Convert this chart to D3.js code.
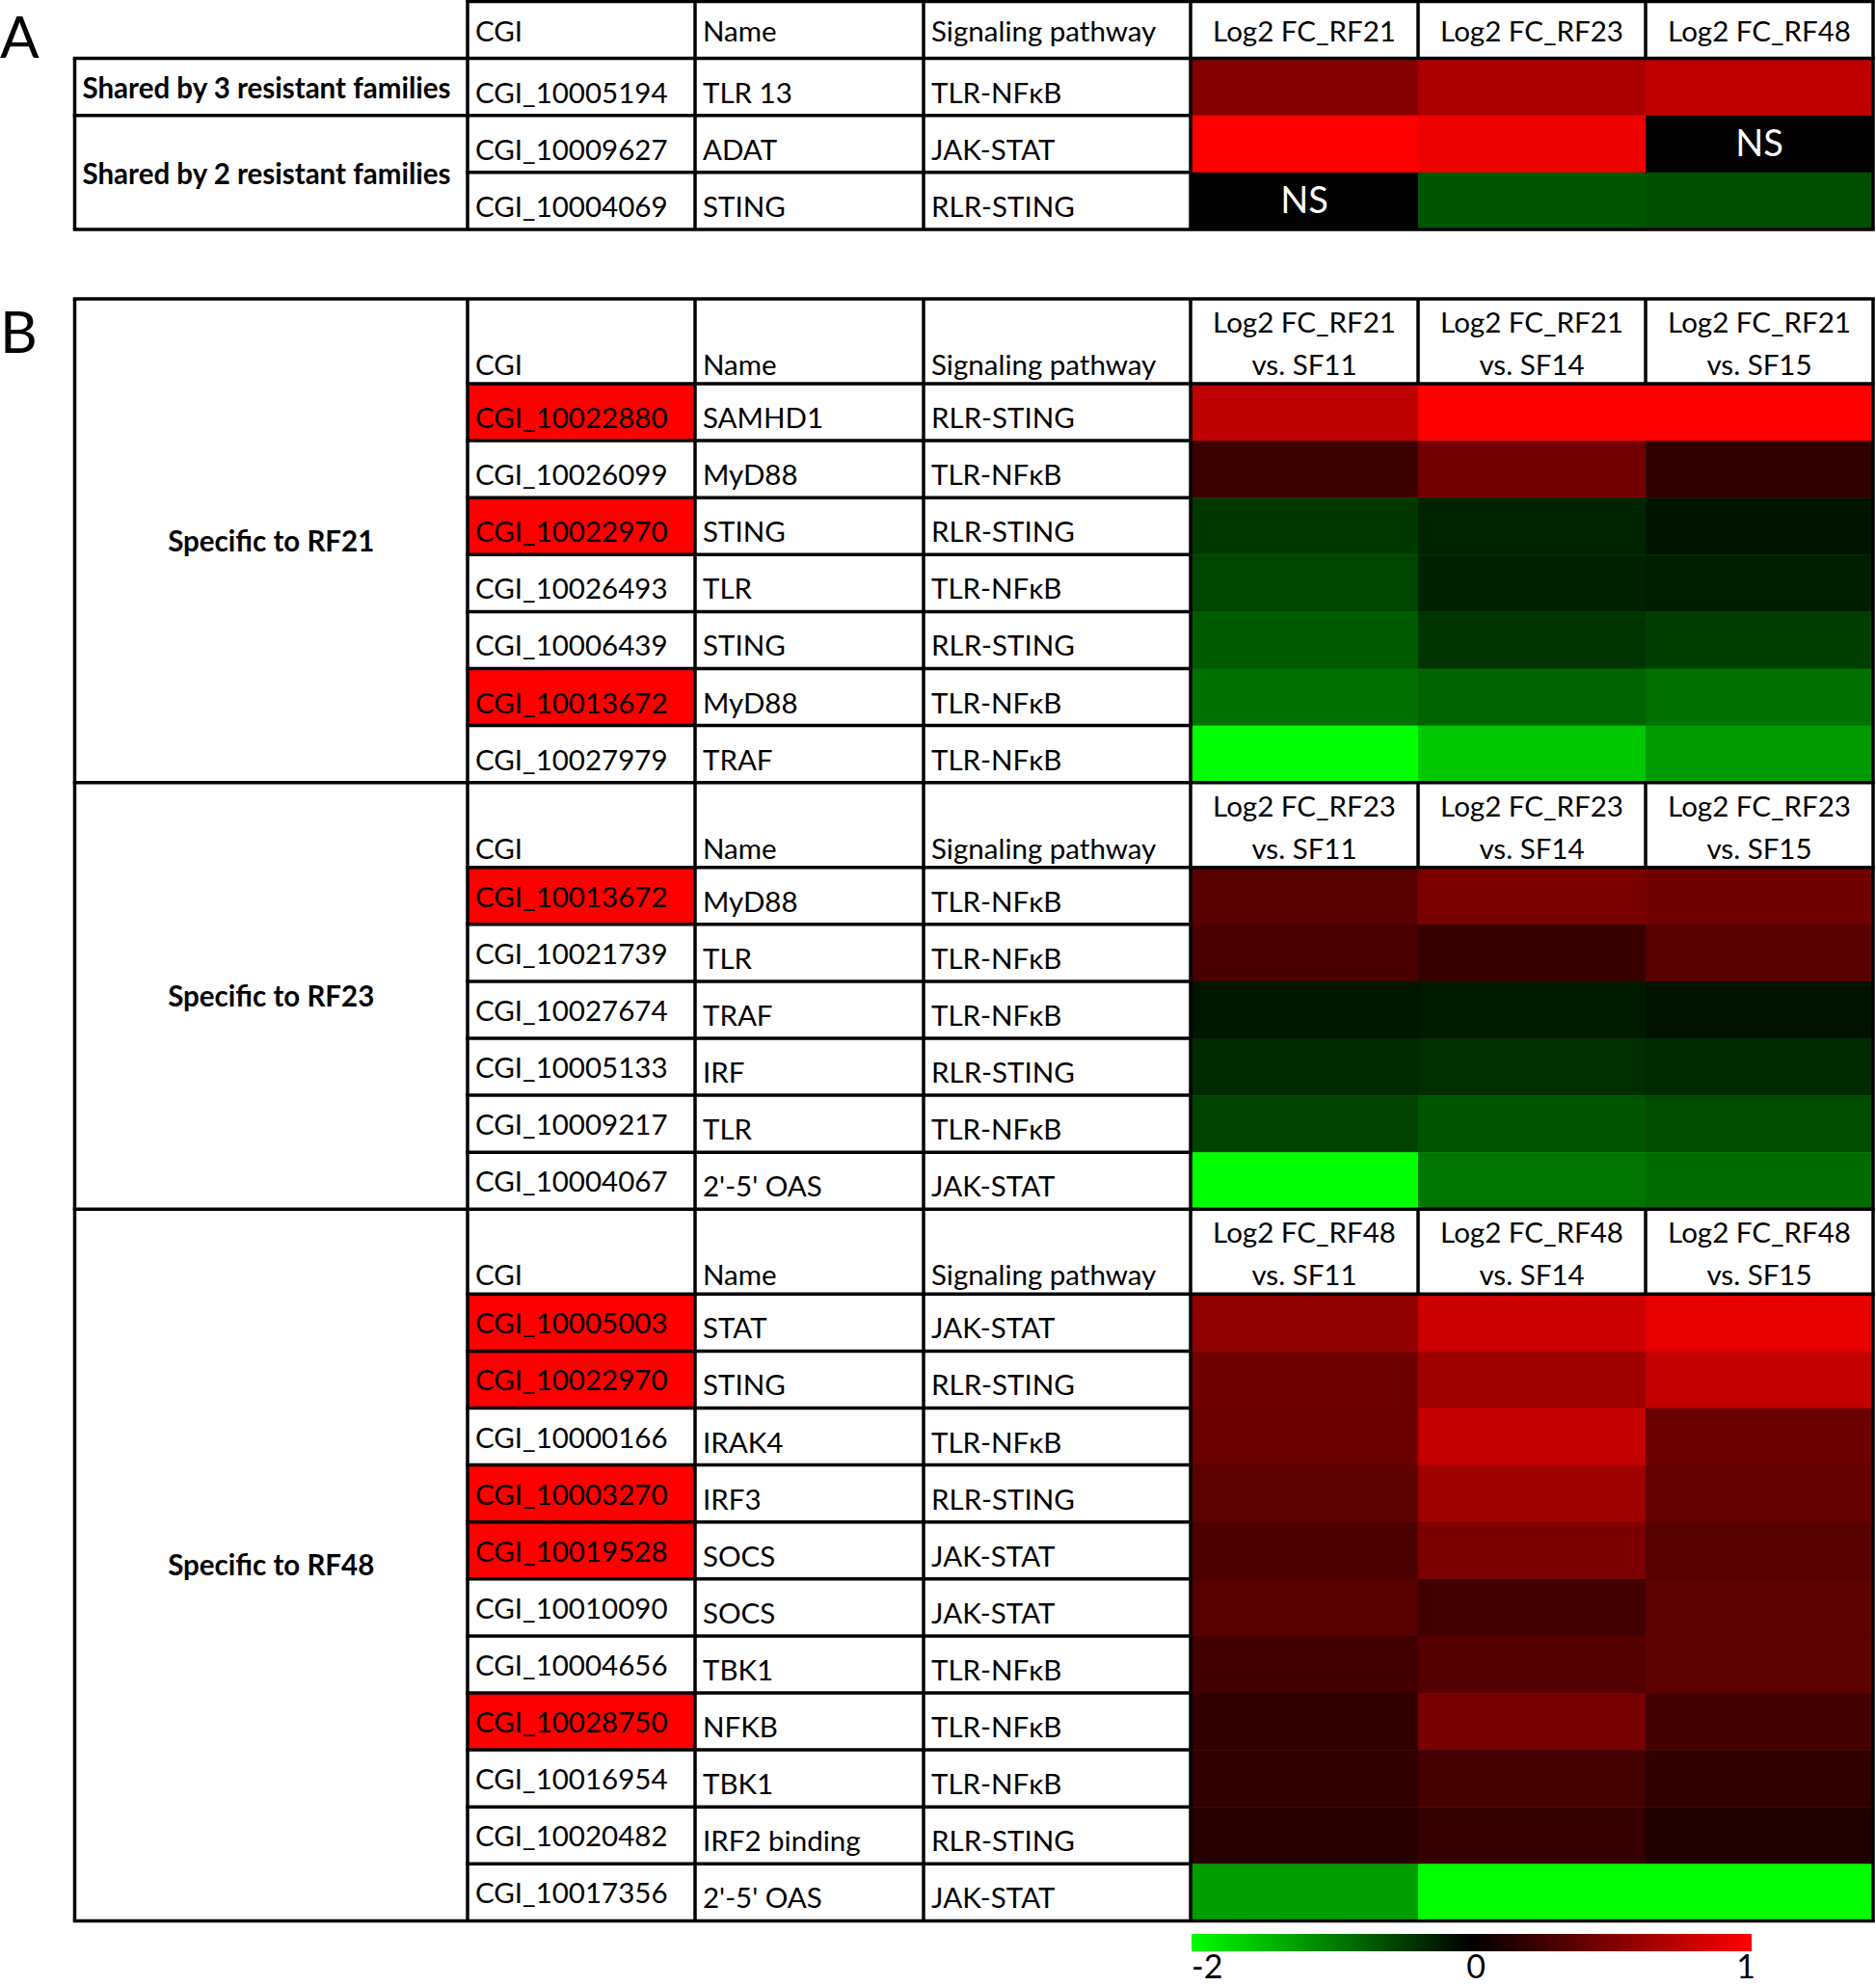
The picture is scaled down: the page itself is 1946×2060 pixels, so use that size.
<!DOCTYPE html>
<html>
<head>
<meta charset="utf-8">
<script src="https://cdn.jsdelivr.net/npm/d3@7/dist/d3.min.js"></script>
<style>
  html, body { margin: 0; padding: 0; background: #fff; }
  svg { display: block; }
  text { font-family: Lato, "Open Sans", sans-serif; fill: #000; }
</style>
</head>
<body>
<div class="graphic"></div>
<script>
// ---- data: panel A (shared genes) ----
var sharedGroups = ["Shared by 3 resistant families", "Shared by 2 resistant families"];
var sharedGroupRows = [1, 2];
var sharedCGI = ["CGI_10005194", "CGI_10009627", "CGI_10004069"];
var sharedName = ["TLR 13", "ADAT", "STING"];
var sharedPath = ["TLR-NFκB", "JAK-STAT", "RLR-STING"];
var sharedCols = ["Log2 FC_RF21", "Log2 FC_RF23", "Log2 FC_RF48"];
// null = NS (not significant)
var sharedValues = [
    [0.52, 0.67, 0.75],
    [1.0, 0.93, null],
    [null, -0.67, -0.62]
];

// ---- data: panel B (family specific genes) ----
var vsCols = ["vs. SF11", "vs. SF14", "vs. SF15"];
var textHeaders = ["CGI", "Name", "Signaling pathway"];

var rf21Label = "Specific to RF21";
var rf21Prefix = "Log2 FC_RF21";
var rf21CGI = ["CGI_10022880", "CGI_10026099", "CGI_10022970", "CGI_10026493", "CGI_10006439", "CGI_10013672", "CGI_10027979"];
var rf21Name = ["SAMHD1", "MyD88", "STING", "TLR", "STING", "MyD88", "TRAF"];
var rf21Path = ["RLR-STING", "TLR-NFκB", "RLR-STING", "TLR-NFκB", "RLR-STING", "TLR-NFκB", "TLR-NFκB"];
var rf21Mark = [1, 0, 1, 0, 0, 1, 0];
var rf21Values = [
    [0.74, 1.0, 1.0],
    [0.24, 0.45, 0.19],
    [-0.45, -0.28, -0.16],
    [-0.54, -0.27, -0.24],
    [-0.71, -0.40, -0.49],
    [-0.89, -0.78, -0.88],
    [-2.0, -1.57, -1.21]
];

var rf23Label = "Specific to RF23";
var rf23Prefix = "Log2 FC_RF23";
var rf23CGI = ["CGI_10013672", "CGI_10021739", "CGI_10027674", "CGI_10005133", "CGI_10009217", "CGI_10004067"];
var rf23Name = ["MyD88", "TLR", "TRAF", "IRF", "TLR", "2'-5' OAS"];
var rf23Path = ["TLR-NFκB", "TLR-NFκB", "TLR-NFκB", "RLR-STING", "TLR-NFκB", "JAK-STAT"];
var rf23Mark = [1, 0, 0, 0, 0, 0];
var rf23Values = [
    [0.35, 0.48, 0.44],
    [0.29, 0.21, 0.34],
    [-0.17, -0.20, -0.14],
    [-0.33, -0.36, -0.33],
    [-0.52, -0.67, -0.58],
    [-2.0, -0.92, -0.85]
];

var rf48Label = "Specific to RF48";
var rf48Prefix = "Log2 FC_RF48";
var rf48CGI = ["CGI_10005003", "CGI_10022970", "CGI_10000166", "CGI_10003270", "CGI_10019528", "CGI_10010090", "CGI_10004656", "CGI_10028750", "CGI_10016954", "CGI_10020482", "CGI_10017356"];
var rf48Name = ["STAT", "STING", "IRAK4", "IRF3", "SOCS", "SOCS", "TBK1", "NFKB", "TBK1", "IRF2 binding", "2'-5' OAS"];
var rf48Path = ["JAK-STAT", "RLR-STING", "TLR-NFκB", "RLR-STING", "JAK-STAT", "JAK-STAT", "TLR-NFκB", "TLR-NFκB", "TLR-NFκB", "RLR-STING", "JAK-STAT"];
var rf48Mark = [1, 1, 0, 1, 1, 0, 0, 1, 0, 0, 0];
var rf48Values = [
    [0.56, 0.80, 0.90],
    [0.44, 0.63, 0.76],
    [0.42, 0.77, 0.42],
    [0.36, 0.63, 0.39],
    [0.30, 0.49, 0.34],
    [0.34, 0.26, 0.36],
    [0.26, 0.33, 0.36],
    [0.19, 0.47, 0.26],
    [0.19, 0.27, 0.19],
    [0.16, 0.21, 0.12],
    [-1.24, -2.0, -2.0]
];

var legendTicks = [-2, 0, 1];

// ---- layout ----
var W = 1946, H = 2060;
var colEdges = [77.5, 485, 721, 958, 1235]; // group | CGI | Name | Pathway | heat
var heatRight = 1943;
var rowH = 59.1, headH = 88;
var fs = 29.5, lw = 3.5;

var svg = d3.select(".graphic").append("svg").attr("width", W).attr("height", H);

var color = d3.scaleLinear().domain([-2, 0, 1]).range(["#00ff00", "#000000", "#ff0000"]).clamp(true);
var xHeat = d3.scaleBand().domain([0, 1, 2]).range([colEdges[4], heatRight]);

var gFill = svg.append("g");
var gText = svg.append("g");
var gLine = svg.append("g");

function hline(x1, x2, y) {
    gLine.append("line").attr("x1", x1 - lw / 2).attr("x2", x2 + lw / 2).attr("y1", y).attr("y2", y)
        .attr("stroke", "#000").attr("stroke-width", lw);
}
function vline(x, y1, y2) {
    gLine.append("line").attr("x1", x).attr("x2", x).attr("y1", y1).attr("y2", y2)
        .attr("stroke", "#000").attr("stroke-width", lw);
}
function label(x, y, s, opts) {
    opts = opts || {};
    return gText.append("text").attr("x", x).attr("y", y).text(s)
        .attr("font-size", opts.size || fs)
        .attr("font-weight", opts.weight || 400)
        .attr("text-anchor", opts.anchor || "start")
        .style("fill", opts.fill || "#000");
}

// ================= Panel A =================
var yA = d3.scaleLinear().domain([0, 4]).range([1.5, 1.5 + 4 * rowH]);
label(0, 60, "A", { size: 60 });

// header
textHeaders.forEach(function (h, i) { label(colEdges[i + 1] + 8, yA(0) + 41, h); });
sharedCols.forEach(function (h, j) { label(xHeat(j) + xHeat.bandwidth() / 2, yA(0) + 41, h, { anchor: "middle" }); });

// rows
sharedCGI.forEach(function (c, i) {
    var y0 = yA(i + 1);
    label(colEdges[1] + 8, y0 + 46, c);
    label(colEdges[2] + 8, y0 + 46, sharedName[i]);
    label(colEdges[3] + 8, y0 + 46, sharedPath[i]);
    sharedValues[i].forEach(function (v, j) {
        gFill.append("rect").attr("x", xHeat(j)).attr("y", y0).attr("width", xHeat.bandwidth() + 0.5).attr("height", rowH + 0.5)
            .attr("fill", v === null ? "#000" : color(v));
        if (v === null) label(xHeat(j) + xHeat.bandwidth() / 2, y0 + rowH / 2 + 13, "NS", { size: 38, anchor: "middle", fill: "#fff" });
    });
});
// group labels
var gStart = 1;
sharedGroups.forEach(function (g, k) {
    var n = sharedGroupRows[k];
    var yc = (yA(gStart) + yA(gStart + n)) / 2;
    label(colEdges[0] + 8, yc + 12, g, { weight: 700 });
    hline(colEdges[0], colEdges[1], yA(gStart));
    gStart += n;
});
// A grid
hline(colEdges[1], heatRight, yA(0));
hline(colEdges[1], heatRight, yA(1));
hline(colEdges[1], colEdges[4], yA(2));
hline(colEdges[1], colEdges[4], yA(3));
hline(colEdges[0], heatRight, yA(4));
vline(colEdges[0], yA(1), yA(4));
[1, 2, 3, 4].forEach(function (k) { vline(colEdges[k], yA(0), yA(4)); });
vline(xHeat(1), yA(0), yA(1));
vline(xHeat(2), yA(0), yA(1));
vline(heatRight, yA(0), yA(4));

// ================= Panel B =================
var sections = [
    { label: rf21Label, prefix: rf21Prefix, cgi: rf21CGI, name: rf21Name, path: rf21Path, mark: rf21Mark, values: rf21Values, lift: 0 },
    { label: rf23Label, prefix: rf23Prefix, cgi: rf23CGI, name: rf23Name, path: rf23Path, mark: rf23Mark, values: rf23Values, lift: 5 },
    { label: rf48Label, prefix: rf48Prefix, cgi: rf48CGI, name: rf48Name, path: rf48Path, mark: rf48Mark, values: rf48Values, lift: 5 }
];
var bTop = 310;
label(0, 366, "B", { size: 60 });

var yCur = bTop;
sections.forEach(function (s) {
    var top = yCur;
    var yRow = d3.scaleLinear().domain([0, s.cgi.length]).range([top + headH, top + headH + s.cgi.length * rowH]);
    var bottom = yRow(s.cgi.length);

    // header
    textHeaders.forEach(function (h, i) { label(colEdges[i + 1] + 8, top + 79, h); });
    vsCols.forEach(function (h, j) {
        var cx = xHeat(j) + xHeat.bandwidth() / 2;
        label(cx, top + 35, s.prefix, { anchor: "middle" });
        label(cx, top + 79, h, { anchor: "middle" });
    });

    // rows
    s.cgi.forEach(function (c, i) {
        var y0 = yRow(i);
        if (s.mark[i]) {
            gFill.append("rect").attr("x", colEdges[1]).attr("y", y0).attr("width", colEdges[2] - colEdges[1]).attr("height", rowH)
                .attr("fill", "#ff0000");
        }
        label(colEdges[1] + 8, y0 + 46 - s.lift, c);
        label(colEdges[2] + 8, y0 + 46, s.name[i]);
        label(colEdges[3] + 8, y0 + 46, s.path[i]);
        s.values[i].forEach(function (v, j) {
            gFill.append("rect").attr("x", xHeat(j)).attr("y", y0).attr("width", xHeat.bandwidth() + 0.5).attr("height", rowH + 0.5)
                .attr("fill", color(v));
        });
    });

    // group label
    label((colEdges[0] + colEdges[1]) / 2, (top + bottom) / 2 + 11, s.label, { weight: 700, anchor: "middle" });

    // grid
    hline(colEdges[0], heatRight, top);
    hline(colEdges[1], heatRight, yRow(0));
    for (var i = 1; i < s.cgi.length; i++) hline(colEdges[1], colEdges[4], yRow(i));
    vline(xHeat(1), top, yRow(0));
    vline(xHeat(2), top, yRow(0));

    yCur = bottom;
});
hline(colEdges[0], heatRight, yCur);
[0, 1, 2, 3, 4].forEach(function (k) { vline(colEdges[k], bTop, yCur); });
vline(heatRight, bTop, yCur);

// ================= Legend =================
var xLeg = d3.scaleLinear().domain(legendTicks).range([1236, 1526, 1817]);
var grad = svg.append("defs").append("linearGradient").attr("id", "leg")
    .attr("x1", "0%").attr("x2", "100%").attr("y1", "0%").attr("y2", "0%");
legendTicks.forEach(function (t) {
    grad.append("stop")
        .attr("offset", (xLeg(t) - xLeg(-2)) / (xLeg(1) - xLeg(-2)))
        .attr("stop-color", color(t));
});
svg.append("rect").attr("x", xLeg(-2)).attr("y", 2006).attr("width", xLeg(1) - xLeg(-2)).attr("height", 18)
    .attr("fill", "url(#leg)");
var legAnchor = ["start", "middle", "middle"];
legendTicks.forEach(function (t, i) {
    label(xLeg(t) + (i === 0 ? 0 : i === 1 ? 5 : -6), 2052, String(t), { size: 34, anchor: legAnchor[i] });
});
</script>
</body>
</html>
